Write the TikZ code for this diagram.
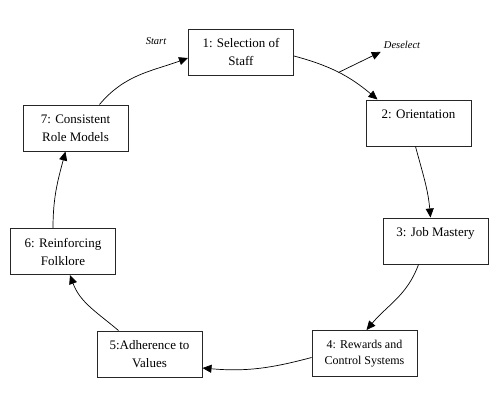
\documentclass[tikz,border=0pt]{standalone}
\usepackage{fontspec}
\setmainfont{Liberation Serif}
\usetikzlibrary{arrows.meta}
\tikzset{
  font={\fontsize{13pt}{18pt}\selectfont}}

\begin{document}
\begin{tikzpicture}[x=1pt,y=1pt]
\tikzstyle{every node}+=[inner sep=0pt]
\tikzstyle{stage}=[draw=black!85, line width=1pt, minimum width=105pt, minimum height=46pt, align=center]
\tikzstyle{link}=[-{Triangle[length=9pt,width=8pt]}, line width=0.7pt]
\tikzstyle{tag}=[font={\fontsize{10.5pt}{12pt}\selectfont\itshape}]
\useasboundingbox (0,0) rectangle (498,-405);
\draw (241,-52) node [stage] (s1) {1: Selection of\\Staff};
\draw (418.5,-123) node [stage] (s2) {2: Orientation\\~};
\draw (435.5,-241) node [stage] (s3) {3: Job Mastery\\~};
\draw (364.5,-353.5) node [stage, font={\fontsize{12pt}{16pt}\selectfont}] (s4) {4: Rewards and\\Control Systems};
\draw (149.5,-354) node [stage] (s5) {5:Adherence to\\Values};
\draw (63,-251.5) node [stage] (s6) {6: Reinforcing\\Folklore};
\draw (75.5,-128) node [stage] (s7) {7: Consistent\\Role Models};
\draw (156,-41) node [tag] (start) {Start};
\draw (402,-45) node [tag] (deselect) {Deselect};
% cycle
\draw [link] ([xshift=24pt]s7.north) to[out=50,in=200] ([yshift=-6pt]s1.west);
\draw [link] ([yshift=-4pt]s1.east) to[out=-15,in=140] coordinate[pos=0.5] (fork) ([xshift=-41pt]s2.north);
\draw [link] (fork) -- ([xshift=-3pt,yshift=-3pt]deselect.south west);
\draw [link] ([xshift=-3pt]s2.south) to[out=-75,in=95] ([xshift=-5pt]s3.north);
\draw [link] ([xshift=-17pt]s3.south) to[out=-110,in=50] ([xshift=2pt]s4.north);
\draw [link] ([yshift=-4pt]s4.west) to[out=195,in=-5] ([yshift=-14pt]s5.east);
\draw [link] ([xshift=-31pt]s5.north) to[out=140,in=-70] ([xshift=7pt]s6.south);
\draw [link] ([xshift=-10pt]s6.north) to[out=90,in=-105] ([xshift=-10pt]s7.south);
\end{tikzpicture}
\end{document}
